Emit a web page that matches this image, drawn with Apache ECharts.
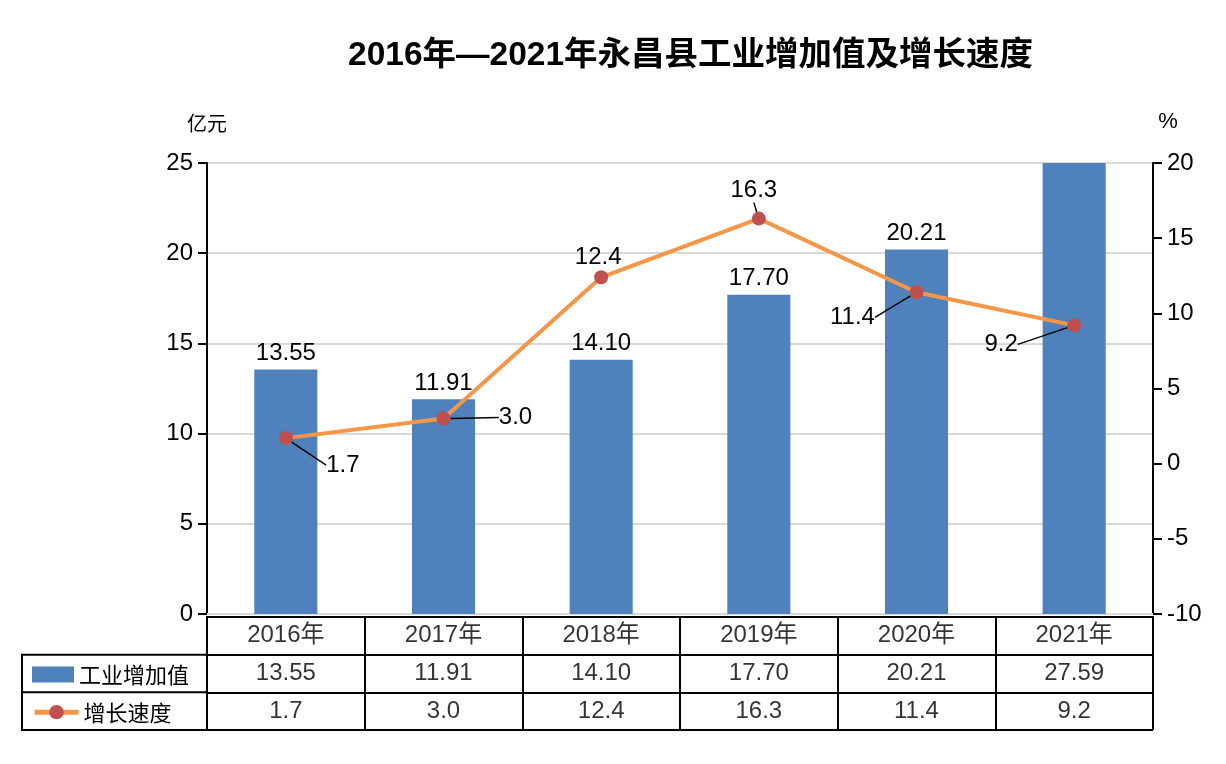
<!DOCTYPE html>
<html>
<head>
<meta charset="utf-8">
<script src="https://cdn.jsdelivr.net/npm/echarts@6/dist/echarts.min.js"></script>
<style>
  html, body { margin: 0; padding: 0; background: #fff; }
  #main { width: 1226px; height: 764px; }
</style>
</head>
<body>
<div id="main"></div>
<script>
var years = ['2016年', '2017年', '2018年', '2019年', '2020年', '2021年'];
var valueData = [13.55, 11.91, 14.10, 17.70, 20.21, 27.59];
var rateData = [1.7, 3.0, 12.4, 16.3, 11.4, 9.2];
var leftTicks = { min: 0, max: 25, interval: 5 };
var rightTicks = { min: -10, max: 20, interval: 5 };

// 折线标签偏移（相对数据点）
var rateLabelShift = [[57, 27], [72, -1], [-3, -20], [-5, -28], [-64, 25], [-73, 19]];

var FONT = '"Liberation Sans", Arial, "Noto Sans CJK SC", sans-serif';
var CJK = '"Noto Sans CJK SC", "Liberation Sans", sans-serif';

var G = { left: 207, right: 73, top: 163, bottom: 150 };
var T = { top: 617, bottom: 34, legendLeft: 22 };

var myChart = echarts.init(document.getElementById('main'));

var tableCells = [];
years.forEach(function (y, i) {
    tableCells.push([i, 0, y]);
    tableCells.push([i, 1, valueData[i].toFixed(2)]);
    tableCells.push([i, 2, rateData[i].toFixed(1)]);
});

var tableTopPx = T.top;
var tableBottomPx = 764 - T.bottom;
var rowH = (tableBottomPx - tableTopPx) / 3;

var legendText = { fontSize: 22, color: '#000', fontFamily: CJK };

option = {
    animation: false,
    textStyle: { fontFamily: FONT },
    title: {
        text: '2016年—2021年永昌县工业增加值及增长速度',
        left: 343,
        top: 34,
        textStyle: {
            fontSize: 33.5,
            fontWeight: 'bold',
            color: '#000',
            fontFamily: FONT
        }
    },
    legend: [{
        left: 27,
        top: tableTopPx + rowH * 1.5 - 15,
        itemWidth: 42,
        itemHeight: 16,
        textStyle: legendText,
        data: [{ name: '工业增加值', icon: 'rect' }]
    }, {
        left: 27,
        top: tableTopPx + rowH * 2.5 - 15,
        itemWidth: 44,
        itemHeight: 18,
        textStyle: legendText,
        data: [{ name: '增长速度', lineStyle: { width: 5 } }]
    }],
    grid: [{
        left: G.left,
        right: G.right,
        top: G.top,
        bottom: G.bottom
    }, {
        left: G.left,
        right: G.right,
        top: T.top,
        bottom: T.bottom
    }],
    xAxis: [{
        type: 'category',
        gridIndex: 0,
        data: years,
        axisLine: { lineStyle: { color: '#D9D9D9', width: 2 } },
        axisTick: { show: false },
        axisLabel: { show: false }
    }, {
        type: 'category',
        gridIndex: 1,
        data: years,
        position: 'top',
        axisLine: { show: true, lineStyle: { color: '#000', width: 2 } },
        axisTick: { show: false },
        axisLabel: { show: false },
        splitLine: { show: true, lineStyle: { color: '#000', width: 2 } }
    }],
    yAxis: [{
        type: 'value',
        gridIndex: 0,
        min: leftTicks.min,
        max: leftTicks.max,
        interval: leftTicks.interval,
        name: '亿元',
        nameGap: 30,
        nameTextStyle: { fontSize: 20, color: '#000', fontFamily: CJK },
        axisLine: { show: true, lineStyle: { color: '#000', width: 2 } },
        axisTick: { show: true, length: 9, lineStyle: { color: '#000', width: 2 } },
        axisLabel: { fontSize: 24, color: '#000', margin: 14 },
        splitLine: { lineStyle: { color: '#D9D9D9', width: 2 } }
    }, {
        type: 'value',
        gridIndex: 0,
        min: rightTicks.min,
        max: rightTicks.max,
        interval: rightTicks.interval,
        position: 'right',
        name: '%',
        nameGap: 30,
        nameTextStyle: { fontSize: 22, color: '#000', padding: [0, 0, 0, 30] },
        axisLine: { show: true, lineStyle: { color: '#000', width: 2 } },
        axisTick: { show: true, length: 9, lineStyle: { color: '#000', width: 2 } },
        axisLabel: { fontSize: 24, color: '#000', margin: 14 },
        splitLine: { show: false }
    }, {
        type: 'category',
        gridIndex: 1,
        inverse: true,
        data: ['年份', '工业增加值', '增长速度'],
        axisLine: { show: true, lineStyle: { color: '#000', width: 2 } },
        axisTick: { show: false },
        axisLabel: { show: false },
        splitLine: { show: true, lineStyle: { color: '#000', width: 2 } }
    }],
    graphic: [{
        type: 'polyline',
        shape: {
            points: [
                [G.left, tableTopPx + rowH],
                [T.legendLeft, tableTopPx + rowH],
                [T.legendLeft, tableBottomPx],
                [G.left, tableBottomPx]
            ]
        },
        style: { stroke: '#000', lineWidth: 2, fill: null }
    }, {
        type: 'line',
        shape: { x1: T.legendLeft, y1: tableTopPx + 2 * rowH, x2: G.left, y2: tableTopPx + 2 * rowH },
        style: { stroke: '#000', lineWidth: 2 }
    }],
    series: [{
        name: '工业增加值',
        type: 'bar',
        xAxisIndex: 0,
        yAxisIndex: 0,
        barWidth: '40%',
        itemStyle: { color: '#4F81BD' },
        label: {
            show: true,
            position: 'top',
            distance: 4,
            fontSize: 24,
            color: '#000',
            formatter: function (p) {
                return p.value > leftTicks.max ? '' : p.value.toFixed(2);
            }
        },
        data: valueData
    }, {
        name: '增长速度',
        type: 'line',
        xAxisIndex: 0,
        yAxisIndex: 1,
        symbol: 'circle',
        symbolSize: 14,
        itemStyle: { color: '#C0504D' },
        lineStyle: { color: '#F79646', width: 4 },
        label: {
            show: true,
            position: 'inside',
            fontSize: 24,
            color: '#000',
            formatter: function (p) { return p.value.toFixed(1); }
        },
        labelLine: {
            show: true,
            lineStyle: { color: '#000', width: 1.5 }
        },
        labelLayout: function (params) {
            var s = rateLabelShift[params.dataIndex];
            return { dx: s[0], dy: s[1] };
        },
        data: rateData.map(function (v, i) {
            return i === 2 ? { value: v, labelLine: { show: false } } : v;
        }),
        z: 5
    }, {
        name: 'table',
        type: 'scatter',
        xAxisIndex: 1,
        yAxisIndex: 2,
        symbolSize: 0,
        silent: true,
        label: {
            show: true,
            position: 'inside',
            fontSize: 24,
            color: '#000',
            fontFamily: FONT,
            formatter: function (p) { return p.value[2]; }
        },
        data: tableCells
    }]
};

myChart.setOption(option);
</script>
</body>
</html>
